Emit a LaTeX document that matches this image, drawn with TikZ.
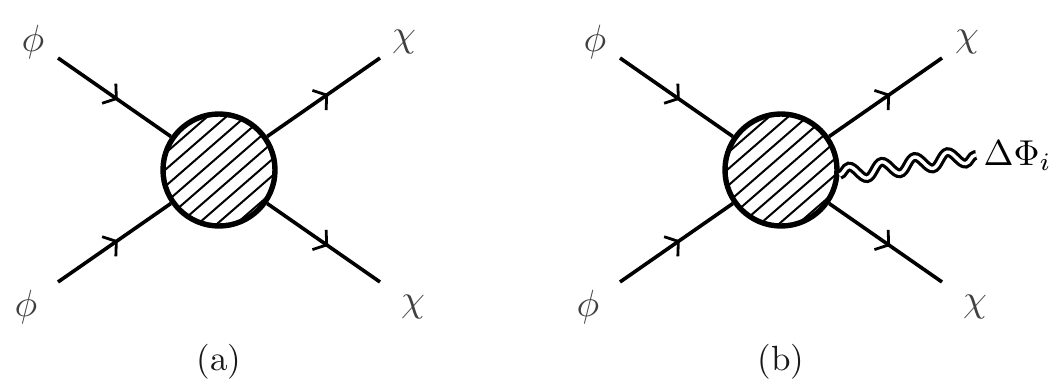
\documentclass[tikz,border=0pt]{standalone}
\usepackage{amsmath,amssymb}
\usepackage{tikz}
\usetikzlibrary{
    arrows.meta,
    decorations.markings,
    decorations.pathmorphing,
    calc
}

\begin{document}
\begin{tikzpicture}[
    x=1pt,
    y=-1pt,
    blob/.style={
        draw,
        circle,
        line width=5.4pt,
        inner sep=0pt,
        minimum size=112pt,
        path picture={
            \coordinate (blobcentre) at (path picture bounding box.center);
            \foreach \i in {-6,...,6} {
                \draw[line width=2pt]
                    ($(blobcentre)+(\i*19-77,69.6)$) -- ($(blobcentre)+(\i*19+83,-69.6)$);
            }
        }
    },
    fermion/.style={
        line width=3.6pt,
        decoration={
            markings,
            mark=at position #1 with {\arrow{Straight Barb[length=9pt,width=24pt,line width=2.8pt]}}
        },
        postaction={decorate}
    },
    gauge/.style={
        draw=black,
        double=white,
        line width=3.2pt,
        double distance=3.4pt,
        decorate,
        decoration={snake, segment length=33.2pt, amplitude=7pt, pre length=0pt, post length=0pt}
    },
    field/.style={
        inner sep=0pt,
        text=black!75,
        scale=3.8
    },
    caption/.style={
        inner sep=0pt,
        text=black!90,
        scale=3.5
    }
]

\useasboundingbox (0,0) rectangle (1055,382);

% diagram (a)
\node[blob] (blobA) at (219,170) {};
\coordinate (inA) at (58,58);
\coordinate (inB) at (58,282);
\coordinate (outA) at (380,58);
\coordinate (outB) at (380,282);

\draw[fermion=0.53] (inA) -- (blobA);
\draw[fermion=0.53] (inB) -- (blobA);
\draw[fermion=0.54] (blobA) -- (outA);
\draw[fermion=0.54] (blobA) -- (outB);

\node[field] (phiA) at (33,42) {$\phi$};
\node[field] (phiB) at (26,307) {$\phi$};
\node[field] (chiA) at (404,42) {$\chi$};
\node[field] (chiB) at (413,307) {$\chi$};
\node[caption] (capA) at (219,362) {(a)};

% diagram (b)
\node[blob] (blobB) at (781,170) {};
\coordinate (inC) at (620,58);
\coordinate (inD) at (620,282);
\coordinate (outC) at (942,58);
\coordinate (outD) at (942,282);

\draw[fermion=0.53] (inC) -- (blobB);
\draw[fermion=0.53] (inD) -- (blobB);
\draw[fermion=0.54] (blobB) -- (outC);
\draw[fermion=0.54] (blobB) -- (outD);

\node[field] (phiC) at (595,42) {$\phi$};
\node[field] (phiD) at (588,307) {$\phi$};
\node[field] (chiC) at (967,42) {$\chi$};
\node[field] (chiD) at (975,307) {$\chi$};
\node[caption] (capB) at (781,362) {(b)};

\node[inner sep=0pt, anchor=west, scale=3.6] (dphi) at (983,156) {$\Delta\Phi_i$};
\coordinate (gaugeEnd) at (976,155);
\draw[gauge] (blobB.-5) -- (gaugeEnd);

\end{tikzpicture}
\end{document}
